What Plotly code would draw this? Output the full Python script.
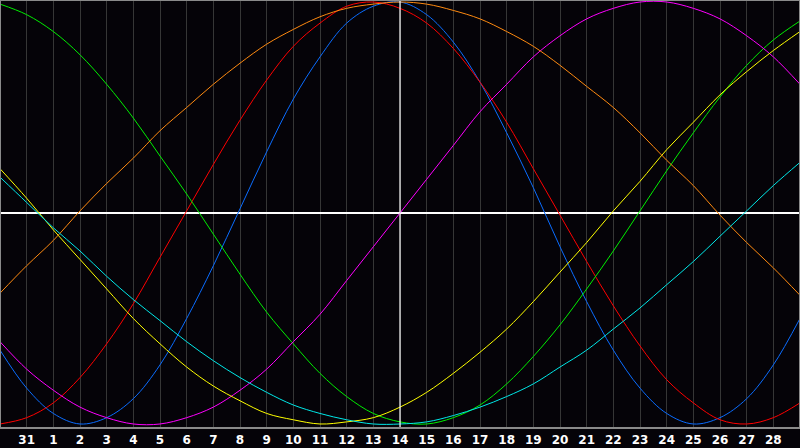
import plotly.graph_objects as go

# ── DATA ─────────────────────────────────────────────────────
# one value per day, from Dec 30 to Jan 29 (percent of amplitude)
DATES = [
    "2023-12-30", "2023-12-31",
    "2024-01-01", "2024-01-02", "2024-01-03", "2024-01-04", "2024-01-05",
    "2024-01-06", "2024-01-07", "2024-01-08", "2024-01-09", "2024-01-10",
    "2024-01-11", "2024-01-12", "2024-01-13", "2024-01-14", "2024-01-15",
    "2024-01-16", "2024-01-17", "2024-01-18", "2024-01-19", "2024-01-20",
    "2024-01-21", "2024-01-22", "2024-01-23", "2024-01-24", "2024-01-25",
    "2024-01-26", "2024-01-27", "2024-01-28", "2024-01-29",
]
TICK_LABELS = ["31"] + [str(d) for d in range(1, 29)]
TODAY = "2024-01-14"

physical = [-65, -83, -95, -100, -97, -88, -72, -50, -25, 2, 29, 54, 74, 90, 98, 100,
            94, 81, 62, 38, 12, -16, -42, -65, -83, -95, -100, -97, -88, -72, -50]
emotional = [-100, -97, -90, -78, -62, -43, -21, 1, 23, 44, 63, 79, 90, 98, 100, 97,
             90, 78, 62, 43, 21, -1, -23, -44, -63, -79, -90, -98, -100, -97, -90]
intellectual = [99, 94, 86, 75, 61, 45, 27, 9, -10, -29, -47, -62, -76, -87, -95, -99,
                -100, -97, -91, -81, -68, -53, -36, -18, 1, 20, 38, 55, 70, 82, 91]
intuitive = [-61, -74, -84, -92, -97, -100, -100, -97, -92, -84, -74, -61, -48, -32, -16, 0,
             16, 32, 48, 61, 74, 84, 92, 97, 100, 100, 97, 92, 84, 74, 61]
aesthetic = [21, 7, -8, -22, -36, -50, -62, -73, -82, -89, -95, -98, -100, -99, -97, -92,
             -85, -76, -66, -55, -42, -28, -14, 1, 15, 30, 43, 56, 67, 77, 86]
awareness = [-38, -25, -13, 1, 14, 26, 39, 50, 61, 71, 80, 87, 93, 97, 99, 100,
             99, 96, 92, 86, 79, 70, 60, 50, 38, 25, 13, -1, -14, -26, -39]
spiritual = [17, 5, -7, -18, -30, -41, -51, -61, -70, -78, -85, -91, -95, -98, -100, -100,
             -99, -96, -92, -87, -81, -73, -65, -55, -45, -34, -23, -11, 1, 13, 24]

CYCLES = [
    ("Physical", physical, "#0a6cff"),
    ("Emotional", emotional, "#ff0000"),
    ("Intellectual", intellectual, "#00ee00"),
    ("Intuitive", intuitive, "#ff00ff"),
    ("Aesthetic", aesthetic, "#ffff00"),
    ("Awareness", awareness, "#ff8a10"),
    ("Spiritual", spiritual, "#00e8e8"),
]

BG = "#050308"

# ── FIGURE ───────────────────────────────────────────────────
fig = go.Figure()
for name, vals, color in CYCLES:
    fig.add_trace(go.Scatter(x=DATES, y=vals, name=name, mode="lines",
                             line=dict(color=color, width=1, shape="spline"),
                             hoverinfo="skip"))

# today marker (vertical white line)
fig.add_shape(type="line", xref="x", yref="paper", x0=TODAY, x1=TODAY, y0=0, y1=1,
              line=dict(color="white", width=1.2))
# frame
fig.add_shape(type="rect", xref="paper", yref="paper", x0=0, x1=1, y0=0, y1=1,
              line=dict(color="#8a8a8a", width=2))

fig.update_layout(
    width=800, height=448,
    margin=dict(l=0, r=0, t=0, b=20),
    paper_bgcolor=BG, plot_bgcolor=BG,
    showlegend=False,
    xaxis=dict(type="date", range=[DATES[0], DATES[-1]],
               tickvals=DATES[1:-1], ticktext=TICK_LABELS,
               showgrid=True, gridcolor="#363636", gridwidth=1,
               ticks="", zeroline=False, ticklabelstandoff=3,
               tickfont=dict(family="DejaVu Sans", size=12, color="white", weight="bold")),
    yaxis=dict(range=[-101.9, 100.95], showgrid=False, showticklabels=False,
               zeroline=True, zerolinecolor="white", zerolinewidth=1.5),
)

# drop the default page margin so the chart sits at the window corner
fig.write_html("out.html", config={"displayModeBar": False},
               post_script="document.body.style.margin='0';")
